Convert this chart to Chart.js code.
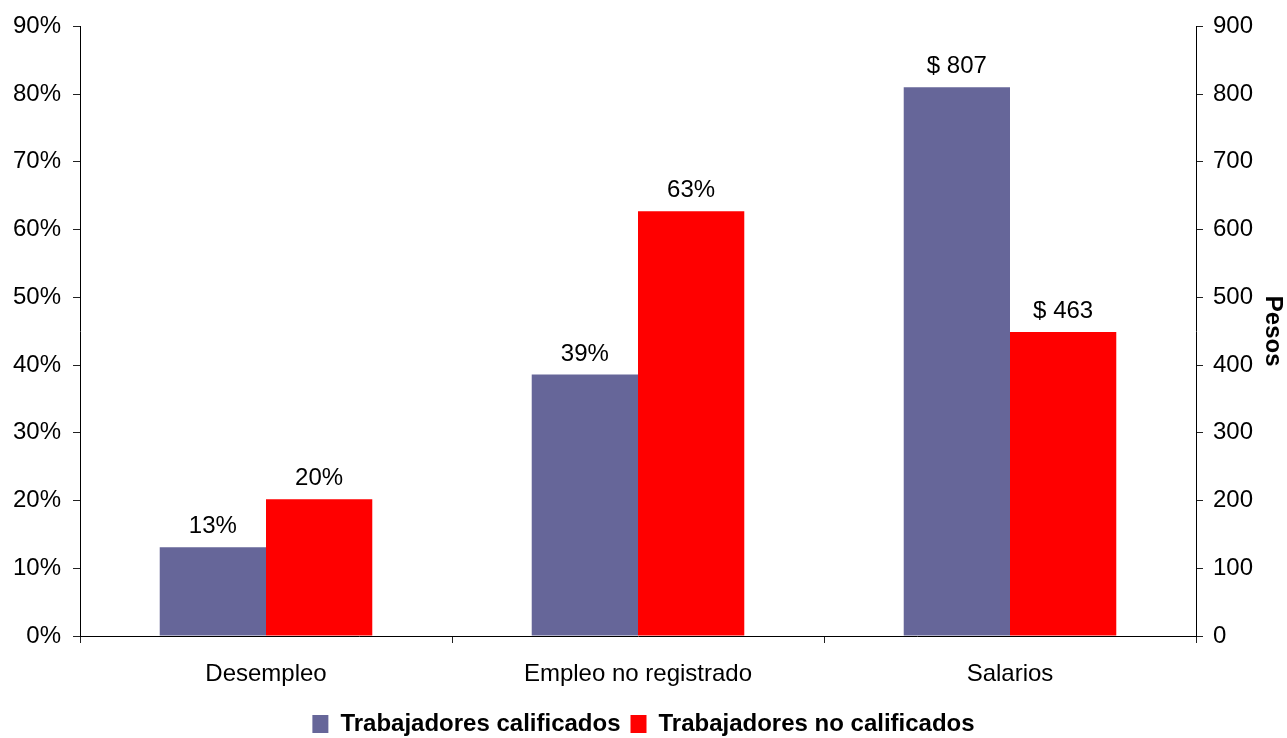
<!DOCTYPE html>
<html>
<head>
<meta charset="utf-8">
<script src="https://cdn.jsdelivr.net/npm/chart.js@4.4.0/dist/chart.umd.min.js"></script>
<style>
  html, body { margin: 0; padding: 0; background: #fff; }
  canvas { display: block; }
</style>
</head>
<body>
<canvas id="chart" width="1287" height="738"></canvas>
<script>
const categories = ["Desempleo", "Empleo no registrado", "Salarios"];
const seriesNames = ["Trabajadores calificados", "Trabajadores no calificados"];
const seriesColors = ["#666699", "#FF0000"];

// percent values, left axis
const calificadosPct = [13.1, 38.6, null];
const noCalificadosPct = [20.2, 62.7, null];

// pesos values, right axis
const calificadosPesos = [null, null, 810];
const noCalificadosPesos = [null, null, 449];

// text printed over each bar
const calificadosLabels = ["13%", "39%", "$ 807"];
const noCalificadosLabels = ["20%", "63%", "$ 463"];

const FONT = "'Liberation Sans', Arial, sans-serif";

// Draws the value text above each bar
const barLabels = {
  id: "barLabels",
  afterDatasetsDraw(chart) {
    const ctx = chart.ctx;
    ctx.save();
    ctx.font = "24px " + FONT;
    ctx.fillStyle = "#000";
    ctx.textAlign = "center";
    ctx.textBaseline = "alphabetic";
    chart.data.datasets.forEach((ds, i) => {
      const meta = chart.getDatasetMeta(i);
      meta.data.forEach((bar, j) => {
        if (ds.data[j] == null) return;
        ctx.fillText(ds.valueLabels[j], bar.x, bar.y - 14);
      });
    });
    ctx.restore();
  }
};

const barOpts = { categoryPercentage: 0.5714, barPercentage: 1, skipNull: true, borderWidth: 0 };

new Chart(document.getElementById("chart"), {
  type: "bar",
  plugins: [barLabels],
  data: {
    labels: categories,
    datasets: [
      { ...barOpts, label: seriesNames[0], data: calificadosPct, backgroundColor: seriesColors[0], yAxisID: "y", valueLabels: calificadosLabels },
      { ...barOpts, label: seriesNames[1], data: noCalificadosPct, backgroundColor: seriesColors[1], yAxisID: "y", valueLabels: noCalificadosLabels },
      { ...barOpts, label: seriesNames[0], data: calificadosPesos, backgroundColor: seriesColors[0], yAxisID: "y1", valueLabels: calificadosLabels },
      { ...barOpts, label: seriesNames[1], data: noCalificadosPesos, backgroundColor: seriesColors[1], yAxisID: "y1", valueLabels: noCalificadosLabels },
    ],
  },
  options: {
    responsive: false,
    animation: false,
    // negative bottom padding pushes the legend a little lower
    layout: { padding: { top: 24, left: 0, right: 0, bottom: -8 } },
    plugins: {
      tooltip: { enabled: false },
      legend: {
        position: "bottom",
        labels: {
          filter: (item) => item.datasetIndex < 2,
          boxWidth: 16,
          boxHeight: 18,
          padding: 10,
          color: "#000",
          font: { family: FONT, size: 24, weight: "bold" },
        },
      },
    },
    scales: {
      x: {
        grid: { drawOnChartArea: false, drawTicks: true, tickLength: 7, color: "#222", offset: true },
        border: { color: "#000" },
        ticks: { color: "#000", font: { family: FONT, size: 24 }, padding: 17, maxRotation: 0 },
        afterFit: (s) => { s.height = 66; },
      },
      y: {
        position: "left",
        min: 0,
        max: 90,
        ticks: { stepSize: 10, callback: (v) => v + "%", padding: 12, color: "#000", font: { family: FONT, size: 24 } },
        grid: { drawOnChartArea: false, tickLength: 7, color: "#222" },
        border: { color: "#000" },
        afterFit: (s) => { s.width = 80; },
      },
      y1: {
        position: "right",
        min: 0,
        max: 900,
        ticks: { stepSize: 100, padding: 10, color: "#000", font: { family: FONT, size: 24 } },
        grid: { drawOnChartArea: false, tickLength: 7, color: "#222" },
        border: { color: "#000" },
        title: { display: true, text: "Pesos", color: "#000", font: { family: FONT, size: 24, weight: "bold" }, padding: 0 },
        afterFit: (s) => { s.width = 91; },
      },
    },
  },
});
</script>
</body>
</html>
